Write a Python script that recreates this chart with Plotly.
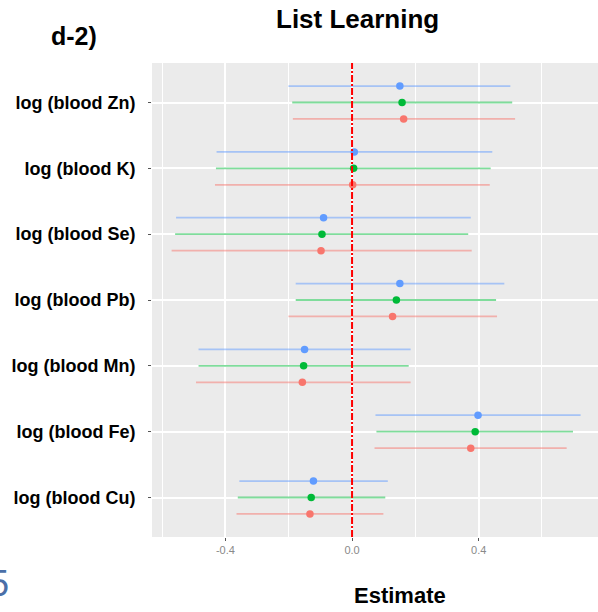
import plotly.graph_objects as go

# ---- data ----
categories = ["log (blood Cu)", "log (blood Fe)", "log (blood Mn)", "log (blood Pb)",
              "log (blood Se)", "log (blood K)", "log (blood Zn)"]

blue_est = [-0.122, 0.398, -0.150, 0.151, -0.090, 0.007, 0.151]
blue_lo  = [-0.356, 0.074, -0.485, -0.178, -0.556, -0.428, -0.201]
blue_hi  = [0.113, 0.722, 0.185, 0.481, 0.375, 0.443, 0.500]

green_est = [-0.129, 0.389, -0.153, 0.140, -0.095, 0.005, 0.158]
green_lo  = [-0.361, 0.077, -0.485, -0.178, -0.559, -0.430, -0.189]
green_hi  = [0.105, 0.698, 0.179, 0.455, 0.367, 0.438, 0.506]

red_est = [-0.133, 0.375, -0.157, 0.128, -0.098, 0.002, 0.163]
red_lo  = [-0.365, 0.071, -0.493, -0.201, -0.570, -0.433, -0.187]
red_hi  = [0.099, 0.678, 0.185, 0.458, 0.378, 0.435, 0.515]

x_tick_vals = [-0.4, 0.0, 0.4]
x_tick_text = ["-0.4", "0.0", "0.4"]

# ---- styling ----
W, H = 598, 612
L, R, T, B = 152, 0, 63, 75
PW, PH = W - L - R, H - T - B

series = [
    (blue_est, blue_lo, blue_hi, "#619CFF", "rgba(97,156,255,0.5)", 0.25),
    (green_est, green_lo, green_hi, "#00BA38", "rgba(0,186,56,0.5)", 0.0),
    (red_est, red_lo, red_hi, "#F8766D", "rgba(248,118,109,0.5)", -0.25),
]

fig = go.Figure()
idx = list(range(len(categories)))
for est, lo, hi, col, lcol, off in series:
    fig.add_trace(go.Scatter(
        x=est,
        y=[i + off for i in idx],
        mode="markers",
        marker=dict(color=col, size=7.5, line=dict(width=0)),
        error_x=dict(type="data", symmetric=False,
                     array=[h - e for e, h in zip(est, hi)],
                     arrayminus=[e - l for e, l in zip(est, lo)],
                     width=0, thickness=1.8, color=lcol),
        showlegend=False,
        hoverinfo="skip",
    ))

fig.add_shape(type="line", x0=0, x1=0, xref="x", y0=0, y1=1, yref="y domain",
              line=dict(color="#FF0000", width=2, dash="7px,2px,2px,2px"))

def px_x(p):
    return (p - L) / PW

def px_y(p):
    return (H - B - p) / PH

FAM = "Liberation Sans, Arial, sans-serif"

fig.add_annotation(text="<b>List Learning</b>", x=px_x(357), y=px_y(19), xref="paper", yref="paper",
                   xanchor="center", yanchor="middle", showarrow=False,
                   font=dict(size=26, family=FAM, color="#000000"))
fig.add_annotation(text="<b>d-2)</b>", x=px_x(74), y=px_y(36), xref="paper", yref="paper",
                   xanchor="center", yanchor="middle", showarrow=False,
                   font=dict(size=25, family=FAM, color="#000000"))
fig.add_annotation(text="<b>Estimate</b>", x=px_x(400), y=px_y(595), xref="paper", yref="paper",
                   xanchor="center", yanchor="middle", showarrow=False,
                   font=dict(size=22, family=FAM, color="#000000"))
fig.add_annotation(text="5", x=px_x(11), y=px_y(583), xref="paper", yref="paper",
                   xanchor="right", yanchor="middle", showarrow=False,
                   font=dict(size=36, family=FAM, color="#4a6fa8"))

fig.update_layout(
    width=W, height=H,
    margin=dict(l=L, r=R, t=T, b=B, pad=0, autoexpand=False),
    paper_bgcolor="white",
    plot_bgcolor="#EBEBEB",
    xaxis=dict(
        range=[-0.632, 0.777],
        tickvals=x_tick_vals, ticktext=x_tick_text,
        showgrid=True, gridcolor="white", gridwidth=1.5,
        minor=dict(tickvals=[-0.6, -0.2, 0.2, 0.6], showgrid=True, gridcolor="white", gridwidth=1, ticklen=0),
        zeroline=False,
        ticks="outside", ticklen=3, tickcolor="#555555", tickwidth=1,
        tickfont=dict(size=11, color="#8a8a8a", family=FAM),
        showline=False,
    ),
    yaxis=dict(
        range=[-0.6, 6.6],
        tickvals=idx, ticktext=["<b>" + c + "</b>" for c in categories],
        showgrid=True, gridcolor="white", gridwidth=1.5,
        zeroline=False,
        ticks="outside", ticklen=3, tickcolor="#555555", tickwidth=1,
        ticklabelstandoff=9,
        tickfont=dict(size=18, family=FAM, color="#000000"),
        showline=False,
    ),
)

fig.write_html("out.html", config={"displayModeBar": False},
               post_script="document.body.style.margin='0';document.body.style.overflow='hidden';")
